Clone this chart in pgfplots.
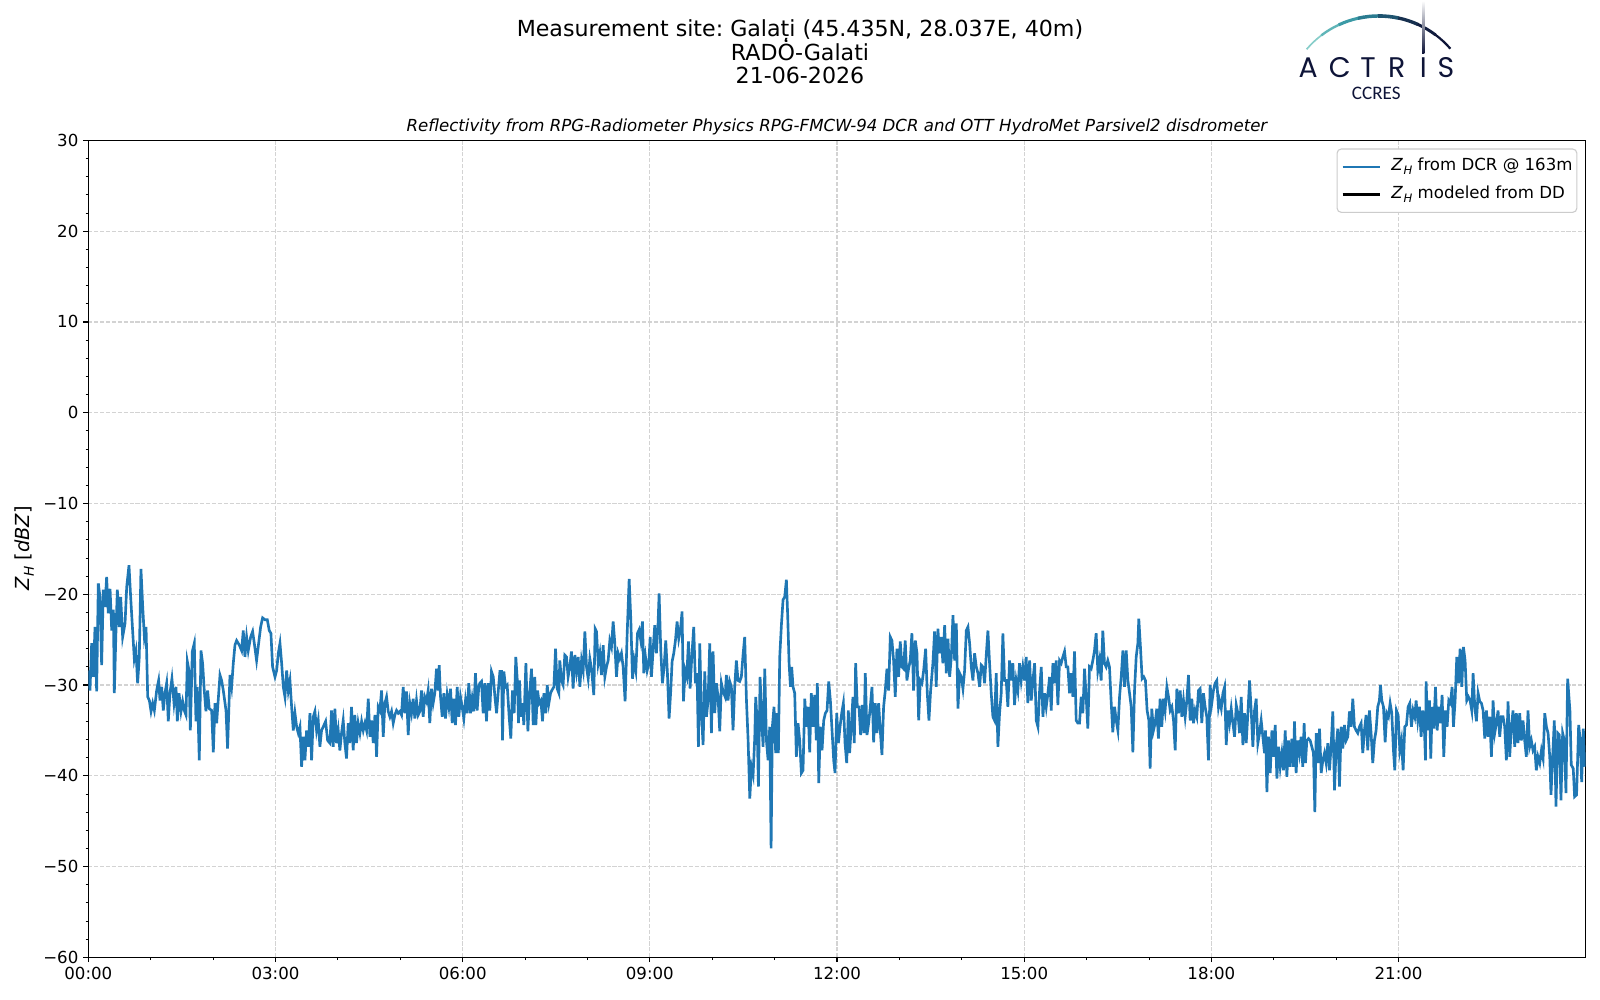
\documentclass[border=0pt]{standalone}
\usepackage{pgfplots}
\pgfplotsset{compat=1.18}
\usepackage{fontspec}
\setmainfont{DejaVu Sans}
\newfontfamily\poppins{Poppins}
\newfontfamily\carlito{Carlito}
\definecolor{mplblue}{HTML}{1F77B4}
\definecolor{gridgray}{HTML}{D3D3D3}
\definecolor{navy}{HTML}{0E1438}
\newcommand{\ZH}[1]{\textit{Z}\kern0.03em\raisebox{-0.22em}{\fontsize{#1}{#1}\selectfont\textit{H}}}
\begin{document}
\frenchspacing
\begin{tikzpicture}
\fill[white] (0,0) rectangle (1152bp,720bp);
\useasboundingbox (0,0) rectangle (1152bp,720bp);
\begin{axis}[
  at={(63.6bp,30.7bp)}, anchor=south west,
  scale only axis, width=1078.1bp, height=588.2bp,
  xmin=0, xmax=1440, ymin=-60, ymax=30,
  xtick={0,180,360,540,720,900,1080,1260},
  xticklabels={00:00,03:00,06:00,09:00,12:00,15:00,18:00,21:00},
  minor x tick num=2,
  ytick={-60,-50,-40,-30,-20,-10,0,10,20,30},
  yticklabels={−60,−50,−40,−30,−20,−10,0,10,20,30},
  minor y tick num=4,
  xtick pos=left, ytick pos=left,
  tick align=outside,
  major tick length=3.5bp, minor tick length=2bp,
  every tick/.style={black, line width=0.8bp},
  minor tick style={line width=0.6bp},
  axis line style={line width=0.8bp},
  ticklabel style={font=\fontsize{12}{14}\selectfont},
  xticklabel style={inner sep=3.5bp},
  yticklabel style={inner sep=3.5bp},
  grid=major,
  major grid style={gridgray, line width=0.8bp, dash pattern=on 2.96bp off 1.28bp},
  legend cell align=left,
  legend style={at={(1,1)}, anchor=north east, xshift=-6bp, yshift=-5.8bp,
    draw=black!20, line width=0.8bp, rounded corners=3bp, fill=white,
    font=\fontsize{12}{14.4}\selectfont,
    nodes={inner sep=0pt, text height=9bp, text depth=3bp},
    inner xsep=3.1bp, inner ysep=6.8bp,
    row sep=8bp},
  legend image code/.code={\draw[#1, line width=1.6bp] (0bp,0bp) -- (26.9bp,0bp); \path (34.3bp,0bp);},
]
\addplot[mplblue, line width=1.9bp] coordinates {
(0.0,-28.4)(1.6,-30.6)(3.2,-25.4)(4.8,-29.1)(6.4,-23.6)(8.0,-30.7)(9.6,-18.8)(11.2,-20.3)(12.8,-27.8)(14.4,-19.5)(16.0,-21.4)(17.6,-18.1)(19.2,-22.1)(20.9,-19.4)(22.5,-24.0)(24.1,-21.7)(25.0,-30.9)(26.6,-24.0)(27.9,-19.5)(29.8,-23.6)(31.1,-20.3)(33.0,-24.7)(35.3,-23.2)(36.9,-19.2)(39.1,-16.8)(40.7,-20.3)(42.6,-24.0)(44.2,-27.1)(45.8,-26.2)(47.4,-29.8)(49.0,-26.9)(50.6,-17.2)(52.3,-21.4)(53.9,-24.7)(55.5,-23.6)(57.1,-31.3)(58.7,-31.7)(60.3,-32.9)(61.9,-32.0)(63.5,-32.8)(65.7,-30.6)(67.6,-29.5)(68.9,-31.7)(70.5,-30.2)(72.1,-32.8)(73.7,-30.9)(75.3,-29.8)(76.9,-34.0)(78.5,-30.9)(80.4,-29.3)(82.4,-32.0)(84.3,-30.2)(85.6,-34.0)(87.2,-30.9)(89.1,-32.9)(90.7,-31.8)(92.3,-32.8)(93.9,-33.3)(95.2,-27.4)(96.8,-28.4)(98.1,-35.0)(100.0,-26.3)(101.9,-25.4)(103.5,-34.0)(104.8,-30.2)(106.7,-38.3)(108.3,-26.2)(109.9,-27.6)(111.5,-30.6)(113.1,-32.9)(114.7,-30.6)(116.3,-32.6)(118.6,-32.8)(120.2,-37.4)(121.8,-32.0)(123.4,-34.2)(124.7,-32.0)(126.6,-28.9)(128.2,-29.5)(129.8,-30.6)(132.4,-32.8)(133.9,-37.0)(136.2,-28.9)(137.8,-30.2)(139.4,-27.6)(141.0,-25.6)(142.6,-25.1)(145.2,-25.6)(147.4,-26.2)(149.0,-24.0)(150.6,-26.9)(152.2,-24.7)(153.8,-26.2)(156.1,-24.7)(158.0,-24.1)(159.6,-25.4)(161.8,-27.3)(164.1,-25.1)(165.7,-23.6)(167.6,-22.6)(169.8,-22.8)(172.1,-22.8)(174.0,-24.0)(175.6,-24.3)(177.2,-28.0)(179.5,-29.1)(181.1,-28.4)(182.7,-26.5)(184.3,-25.4)(185.9,-27.6)(187.5,-30.2)(189.1,-31.3)(190.7,-28.4)(192.3,-30.6)(193.9,-29.5)(195.5,-32.4)(197.1,-35.0)(198.7,-33.1)(200.3,-34.6)(201.9,-35.3)(203.5,-34.6)(205.1,-39.0)(206.7,-35.7)(208.3,-38.3)(209.9,-35.0)(211.5,-36.8)(213.1,-33.1)(214.7,-38.3)(216.3,-33.5)(217.9,-32.9)(219.5,-35.0)(221.1,-33.9)(222.7,-36.8)(224.3,-35.0)(225.9,-34.6)(228.2,-34.0)(230.1,-36.1)(232.3,-36.4)(233.9,-32.8)(235.5,-36.8)(237.1,-32.6)(238.7,-36.4)(240.3,-35.0)(241.9,-37.2)(243.5,-35.3)(245.1,-33.9)(246.7,-36.4)(248.3,-38.1)(249.9,-34.2)(251.5,-36.4)(253.1,-32.4)(254.7,-37.2)(256.3,-33.3)(257.9,-36.4)(259.5,-34.2)(261.2,-35.3)(262.8,-34.0)(264.4,-35.0)(266.0,-34.2)(267.6,-35.0)(269.2,-31.5)(270.8,-35.7)(272.4,-33.9)(274.0,-36.4)(275.6,-33.3)(277.2,-37.9)(278.8,-32.4)(280.4,-32.8)(282.0,-30.6)(283.6,-35.7)(285.2,-32.0)(286.8,-31.3)(288.4,-32.9)(290.0,-33.5)(291.6,-32.9)(293.2,-34.2)(294.8,-33.3)(296.4,-32.8)(298.0,-33.1)(299.6,-32.9)(301.2,-33.3)(302.8,-30.2)(304.4,-33.1)(306.0,-30.7)(307.6,-35.5)(309.2,-32.0)(310.8,-33.1)(312.4,-31.5)(314.0,-33.7)(315.6,-31.7)(317.2,-33.3)(318.8,-32.9)(320.4,-30.6)(322.0,-33.5)(323.6,-31.3)(325.2,-31.8)(326.8,-30.6)(328.4,-34.2)(330.0,-30.4)(331.6,-32.0)(333.2,-30.9)(334.8,-28.2)(336.4,-30.6)(337.4,-27.8)(338.7,-31.3)(340.3,-33.5)(341.9,-30.9)(343.5,-33.7)(345.1,-31.1)(346.7,-32.4)(348.3,-30.4)(349.9,-34.2)(351.5,-31.5)(353.1,-34.4)(354.7,-30.2)(356.3,-33.5)(357.9,-31.3)(359.5,-32.4)(361.1,-33.7)(362.7,-31.7)(364.3,-33.1)(365.9,-29.8)(367.5,-33.1)(369.1,-31.5)(370.7,-32.9)(372.3,-28.7)(373.9,-32.8)(375.5,-30.2)
(376.5,-29.8)(378.1,-29.6)(379.7,-33.1)(381.3,-29.8)(382.9,-34.0)(384.5,-29.8)(386.1,-32.8)(387.7,-28.5)(389.4,-29.1)(391.0,-31.3)(392.6,-33.1)(394.2,-30.7)(395.8,-28.5)(397.4,-28.5)(398.3,-36.1)(399.6,-28.5)(401.2,-30.2)(402.8,-30.0)(404.7,-33.5)(406.3,-35.9)(407.9,-30.6)(409.5,-33.1)(411.1,-26.9)(412.7,-29.8)(413.7,-34.2)(414.7,-29.5)(415.9,-33.5)(417.5,-32.0)(418.8,-34.4)(420.8,-27.6)(422.7,-35.1)(424.6,-30.6)(426.2,-28.2)(427.8,-34.4)(429.4,-29.1)(430.4,-34.4)(432.0,-30.6)(433.6,-32.0)(435.2,-31.7)(436.8,-34.0)(438.1,-30.9)(440.0,-33.1)(441.3,-30.0)(442.9,-32.0)(444.5,-30.9)(445.7,-30.6)(447.7,-30.2)(449.3,-26.0)(450.9,-30.4)(452.5,-30.9)(453.4,-27.3)(455.0,-29.5)(456.6,-30.0)(458.2,-26.7)(459.8,-26.9)(461.4,-29.1)(463.0,-28.0)(464.6,-26.3)(466.2,-30.4)(467.9,-26.7)(469.5,-28.5)(471.1,-26.9)(472.7,-30.2)(474.3,-27.3)(475.9,-28.4)(477.5,-24.1)(479.1,-28.0)(480.7,-29.3)(482.3,-27.1)(483.9,-28.2)(486.1,-31.1)(487.4,-23.8)(488.7,-24.1)(490.3,-27.6)(491.9,-26.5)(493.5,-28.9)(495.1,-25.6)(496.7,-29.1)(498.3,-28.0)(499.9,-27.3)(501.5,-25.1)(503.1,-25.8)(504.7,-23.0)(506.3,-25.4)(507.9,-29.1)(509.5,-26.5)(511.1,-27.1)(512.7,-26.5)(514.3,-28.0)(516.2,-31.8)(518.2,-24.3)(520.1,-18.3)(521.7,-22.8)(523.3,-29.3)(524.9,-27.3)(526.5,-28.4)(528.1,-24.3)(529.7,-23.9)(531.3,-25.1)(532.9,-23.0)(534.2,-28.7)(535.8,-26.9)(537.4,-28.4)(539.0,-27.6)(540.3,-24.7)(541.5,-29.1)(543.1,-26.2)(544.7,-23.4)(546.3,-26.5)(547.9,-23.2)(548.9,-19.9)(550.5,-26.2)(552.1,-29.8)(553.7,-28.0)(555.3,-25.1)(556.9,-28.7)(558.5,-33.7)(560.1,-30.6)(561.4,-27.4)(563.0,-26.5)(564.6,-25.1)(566.2,-23.0)(567.8,-24.9)(569.4,-23.9)(571.0,-21.9)(572.3,-31.8)(573.9,-28.4)(575.5,-29.1)(577.1,-25.2)(578.7,-30.4)(580.3,-26.9)(582.2,-23.6)(583.8,-29.8)(585.4,-28.7)(586.7,-36.8)(588.0,-25.4)(589.6,-33.1)(591.2,-36.6)(592.8,-28.5)(594.4,-33.5)(596.0,-31.7)(597.6,-25.4)(599.2,-35.3)(600.8,-26.3)(602.4,-33.1)(604.0,-29.8)(605.6,-31.3)(607.2,-35.1)(608.8,-29.8)(610.4,-30.7)(612.4,-31.3)(613.6,-28.9)(615.2,-31.7)(616.8,-29.6)(618.4,-30.2)(620.0,-35.0)(621.6,-30.2)(623.2,-27.3)(624.8,-29.5)(626.4,-29.6)(628.0,-29.1)(629.6,-26.7)(631.2,-24.7)(632.9,-31.7)(634.5,-36.1)(636.1,-42.5)(637.7,-39.0)(639.3,-39.9)(640.9,-35.7)(641.8,-31.3)(643.1,-33.9)(644.4,-41.2)(646.0,-29.1)(647.6,-33.9)(648.9,-36.8)(650.5,-28.2)(652.1,-36.1)(653.7,-38.3)(655.3,-34.6)(656.6,-48.0)(657.8,-34.6)(659.4,-32.4)(661.0,-37.5)(662.3,-33.1)(663.6,-37.5)(664.9,-26.9)(666.5,-23.4)(668.1,-20.6)(669.7,-20.3)(671.3,-18.4)(672.6,-22.5)(673.9,-27.6)(675.2,-30.2)(676.4,-28.0)(677.7,-30.2)(679.3,-30.9)(680.9,-37.9)(682.5,-34.2)(684.1,-36.1)(685.7,-39.7)(687.3,-39.4)(689.0,-31.5)(690.5,-34.6)(692.1,-32.4)(693.7,-37.4)(695.3,-30.9)(696.9,-34.6)(698.5,-31.1)(700.1,-36.1)(701.1,-29.8)(702.4,-40.8)(704.0,-34.6)(705.6,-37.2)(707.2,-33.9)(708.8,-33.1)(710.4,-32.8)(712.0,-29.6)(713.6,-31.7)(715.2,-35.0)(716.8,-38.3)(718.1,-39.7)(719.7,-33.1)(721.3,-36.4)(722.9,-34.6)(724.5,-33.1)(726.1,-32.0)(727.7,-36.4)(729.3,-38.6)(730.9,-32.8)
(732.1,-37.5)(733.7,-34.6)(735.3,-31.3)(736.6,-36.4)(737.9,-27.6)(739.5,-32.4)(741.1,-32.4)(742.7,-35.5)(744.3,-32.2)(745.9,-35.3)(747.2,-28.7)(748.8,-35.5)(750.4,-34.2)(752.0,-32.4)(753.6,-30.2)(755.2,-36.3)(756.8,-32.0)(758.4,-35.3)(760.0,-32.0)(761.6,-35.0)(763.2,-37.7)(764.8,-32.4)(766.4,-30.6)(768.0,-28.2)(769.6,-30.6)(771.2,-24.7)(772.8,-25.1)(774.4,-27.3)(776.0,-31.3)(777.6,-26.0)(779.2,-29.1)(780.8,-25.2)(782.4,-28.0)(784.0,-28.2)(785.6,-25.1)(787.2,-29.5)(788.8,-28.2)(790.4,-27.3)(792.0,-24.3)(793.6,-30.6)(795.3,-25.1)(796.9,-26.5)(798.5,-33.9)(800.1,-29.5)(801.7,-29.8)(803.3,-28.4)(805.2,-26.0)(806.8,-30.9)(808.4,-33.9)(810.0,-30.6)(812.2,-27.6)(813.8,-24.1)(815.4,-30.2)(817.0,-23.8)(818.6,-26.5)(820.2,-24.7)(821.8,-27.6)(823.5,-23.4)(825.1,-28.7)(826.7,-24.9)(828.3,-29.1)(829.9,-26.9)(831.5,-22.3)(833.1,-27.3)(834.7,-23.2)(836.3,-32.6)(837.9,-28.7)(839.5,-29.1)(841.1,-30.4)(842.7,-28.4)(844.3,-24.0)(845.9,-23.6)(847.5,-25.4)(849.1,-28.0)(850.7,-29.5)(852.3,-26.5)(853.9,-28.0)(855.5,-28.7)(857.1,-30.2)(858.7,-27.8)(860.3,-28.0)(861.9,-29.8)(863.5,-26.7)(865.1,-24.0)(866.7,-27.6)(868.3,-30.9)(869.9,-33.5)(871.5,-33.9)(873.1,-28.7)(874.7,-36.8)(876.3,-33.1)(877.9,-30.9)(879.5,-24.3)(881.1,-29.5)(882.7,-29.5)(884.3,-32.4)(885.9,-27.3)(887.5,-29.5)(889.1,-27.6)(890.7,-32.2)(892.3,-29.5)(893.9,-30.6)(895.5,-27.6)(897.1,-29.5)(898.7,-28.0)(900.3,-29.5)(901.9,-26.9)(903.5,-32.0)(905.2,-27.3)(906.8,-31.7)(908.4,-29.5)(910.0,-27.6)(911.6,-33.9)(913.2,-34.6)(914.8,-30.6)(916.4,-28.0)(918.0,-33.5)(919.6,-30.9)(921.2,-32.4)(922.8,-30.9)(924.4,-29.1)(926.0,-32.8)(927.6,-27.6)(929.2,-29.8)(930.8,-27.3)(932.4,-32.2)(934.0,-27.3)(935.6,-27.6)(937.2,-26.9)(938.8,-26.3)(940.4,-28.0)(942.0,-28.0)(943.6,-30.9)(945.2,-28.7)(946.8,-31.3)(948.4,-26.3)(950.0,-33.9)(951.6,-34.2)(953.2,-34.2)(954.8,-31.3)(956.4,-33.1)(958.0,-28.2)(959.6,-31.3)(961.2,-34.8)(962.8,-28.0)(964.4,-28.2)(966.0,-27.3)(967.6,-26.2)(969.2,-24.3)(970.8,-28.4)(972.4,-27.3)(974.0,-29.5)(975.6,-24.0)(977.2,-27.6)(978.8,-28.0)(980.4,-27.3)(982.0,-28.0)(983.7,-32.0)(985.2,-35.2)(986.9,-32.4)(988.5,-33.9)(990.1,-35.0)(991.7,-31.3)(993.3,-29.1)(994.9,-26.2)(996.5,-30.2)(998.1,-26.2)(999.7,-29.5)(1001.3,-30.9)(1002.9,-32.4)(1004.5,-37.4)(1006.1,-30.6)(1007.7,-26.9)(1009.3,-25.4)(1010.2,-22.7)(1011.8,-25.8)(1013.4,-29.3)(1015.0,-29.1)(1016.6,-29.5)(1018.2,-32.8)(1019.9,-33.9)(1021.1,-39.2)(1022.7,-32.6)(1024.3,-35.0)(1025.9,-34.2)(1027.5,-32.6)(1029.1,-35.9)(1030.7,-31.5)(1032.3,-34.6)(1033.9,-31.5)(1035.5,-32.8)(1037.2,-30.2)(1038.8,-31.3)(1040.4,-32.8)(1042.0,-32.4)(1043.6,-33.9)(1045.2,-37.2)(1046.8,-30.4)(1048.4,-33.1)(1050.0,-30.6)(1051.6,-33.5)(1053.2,-31.7)(1054.8,-33.5)(1056.4,-31.7)(1058.0,-28.9)(1059.6,-33.9)(1061.2,-31.5)(1062.8,-34.2)(1064.4,-32.8)(1066.0,-33.5)(1067.6,-30.6)(1069.2,-30.4)(1070.8,-34.2)(1072.4,-30.9)(1074.0,-32.4)(1075.6,-33.5)(1077.2,-38.3)(1078.8,-30.0)(1080.4,-32.0)(1082.0,-30.6)(1083.6,-29.8)(1085.2,-29.5)(1086.8,-32.4)
(1087.8,-31.7)(1089.5,-32.6)(1091.1,-30.9)(1092.7,-30.2)(1094.3,-36.6)(1095.9,-32.8)(1097.5,-34.2)(1099.1,-32.6)(1100.7,-34.2)(1102.3,-35.7)(1103.9,-32.2)(1105.5,-33.1)(1107.1,-35.3)(1108.7,-31.3)(1110.3,-36.6)(1111.9,-33.1)(1113.5,-36.4)(1115.1,-33.1)(1116.7,-29.5)(1118.3,-32.8)(1119.9,-36.8)(1121.5,-32.8)(1123.1,-31.5)(1124.7,-36.4)(1126.3,-35.3)(1127.9,-33.9)(1129.5,-35.7)(1131.1,-37.5)(1132.1,-35.0)(1133.4,-41.8)(1135.0,-35.7)(1136.6,-39.7)(1138.2,-35.0)(1139.8,-37.9)(1141.4,-34.4)(1143.0,-40.3)(1144.6,-36.8)(1146.2,-39.0)(1147.8,-37.5)(1149.4,-39.4)(1151.0,-35.0)(1152.6,-40.1)(1154.2,-36.1)(1155.8,-39.0)(1157.4,-35.9)(1159.0,-39.0)(1159.9,-34.0)(1161.5,-39.7)(1163.1,-36.1)(1164.7,-37.5)(1166.3,-35.7)(1167.9,-39.0)(1169.2,-34.2)(1170.5,-38.6)(1171.8,-36.1)(1173.4,-35.9)(1175.0,-36.1)(1176.6,-36.8)(1178.2,-37.5)(1179.5,-44.0)(1180.8,-35.3)(1182.4,-38.6)(1184.0,-34.8)(1185.6,-39.7)(1187.2,-38.3)(1188.8,-37.5)(1190.4,-38.6)(1192.0,-36.4)(1193.6,-39.4)(1195.2,-36.6)(1196.8,-32.9)(1198.4,-41.6)(1200.0,-36.8)(1201.6,-34.8)(1203.2,-41.2)(1204.8,-34.6)(1206.4,-37.0)(1208.0,-34.4)(1209.6,-36.1)(1211.2,-35.7)(1212.8,-32.9)(1214.4,-34.6)(1216.0,-31.5)(1217.6,-34.6)(1219.2,-35.0)(1220.8,-35.3)(1222.4,-34.6)(1224.0,-34.2)(1225.6,-37.5)(1227.2,-35.0)(1228.8,-33.3)(1230.4,-37.2)(1232.0,-32.8)(1233.6,-35.3)(1235.2,-38.6)(1236.8,-36.1)(1238.4,-35.0)(1240.0,-32.4)(1241.6,-31.7)(1242.6,-30.0)(1243.9,-31.7)(1245.5,-32.4)(1247.1,-36.3)(1248.7,-33.1)(1250.3,-33.5)(1251.9,-32.0)(1253.5,-33.1)(1255.1,-37.2)(1256.4,-39.4)(1258.0,-32.8)(1259.6,-33.3)(1261.2,-37.2)(1262.8,-36.1)(1264.4,-39.4)(1266.0,-34.6)(1267.6,-34.4)(1269.2,-32.4)(1270.8,-32.0)(1272.4,-34.6)(1274.0,-32.8)(1275.6,-33.5)(1276.9,-31.7)(1278.5,-33.9)(1280.1,-32.4)(1281.7,-35.7)(1283.3,-32.8)(1284.6,-33.9)(1285.9,-38.3)(1286.5,-29.6)(1288.1,-35.0)(1289.7,-31.7)(1291.0,-38.1)(1292.3,-32.4)(1293.9,-34.8)(1295.5,-30.2)(1297.1,-35.0)(1298.7,-32.4)(1300.3,-34.2)(1301.9,-31.1)(1303.5,-37.9)(1305.1,-32.8)(1306.7,-34.6)(1308.3,-31.7)(1309.9,-32.0)(1311.5,-30.2)(1312.8,-34.6)(1314.4,-31.7)(1316.0,-26.9)(1317.6,-29.8)(1319.2,-26.0)(1320.8,-30.2)(1322.4,-25.8)(1324.0,-27.3)(1325.6,-31.7)(1327.2,-31.3)(1328.8,-31.7)(1330.4,-32.8)(1331.7,-28.7)(1333.3,-32.4)(1334.9,-34.0)(1336.5,-30.9)(1338.1,-31.8)(1339.7,-32.0)(1341.3,-32.8)(1342.9,-35.9)(1344.5,-32.8)(1346.1,-35.7)(1347.7,-33.5)(1349.3,-37.9)(1350.9,-31.7)(1352.5,-35.3)(1354.1,-34.2)(1355.7,-32.8)(1357.3,-35.7)(1358.9,-33.5)(1360.5,-33.5)(1362.1,-34.6)(1363.7,-38.3)(1365.3,-31.8)(1366.9,-37.9)(1368.5,-34.6)(1370.1,-32.8)(1371.7,-36.8)(1373.3,-33.1)(1374.9,-36.4)(1376.5,-33.1)(1378.1,-36.1)(1379.7,-33.9)(1381.3,-36.1)(1382.9,-37.9)(1384.5,-32.8)(1386.1,-36.8)(1387.7,-36.1)(1389.3,-37.2)(1390.9,-36.8)(1392.5,-39.4)(1394.1,-37.9)(1395.8,-38.6)(1397.4,-37.2)(1399.0,-38.1)(1400.6,-33.1)(1402.2,-34.6)(1403.8,-35.3)(1405.4,-37.9)(1406.6,-42.1)(1408.2,-37.9)(1409.8,-33.9)(1411.4,-43.4)(1413.1,-35.3)
(1414.6,-35.5)(1416.2,-42.7)(1417.8,-35.3)(1419.4,-36.1)(1421.0,-41.9)(1422.6,-29.3)(1424.8,-32.8)(1426.1,-38.8)(1428.0,-39.2)(1429.3,-42.3)(1431.2,-42.1)(1433.2,-34.4)(1434.8,-36.1)(1436.1,-40.7)(1437.7,-34.8)(1439.0,-39.0)
};
\addlegendentry{\ZH{8.4} from DCR @ 163m\hspace{2.7bp}}
\addlegendimage{black, line width=1.5bp}
\addlegendentry{\ZH{8.4} modeled from DD\hspace{2.7bp}}
\end{axis}
% y label
\node[rotate=90, font=\fontsize{14}{16}\selectfont] at (17.6bp,325.1bp) {\ZH{9.8} [\textit{dBZ}]};
% titles
\node[anchor=base, font=\fontsize{16}{19.2}\selectfont] at (576bp,693.7bp) {Measurement site: Galați (45.435N, 28.037E, 40m)};
\node[anchor=base, font=\fontsize{16}{19.2}\selectfont] at (576bp,676.7bp) {RADȮ-Galati};
\node[anchor=base, font=\fontsize{16}{19.2}\selectfont] at (576bp,659.8bp) {21-06-2026};
\node[anchor=base, font=\fontsize{12}{14}\selectfont\itshape] at (602.6bp,625bp) {Reflectivity from RPG-Radiometer Physics RPG-FMCW-94 DCR and OTT HydroMet Parsivel2 disdrometer};
% logo
\begin{scope}
\foreach \aa/\ab/\cc/\ww in {139.6/127.3/86CDC9/1.2, 127.3/115.0/5FB5B8/1.7, 115.0/102.7/3C9AA6/2.2, 102.7/90.4/2A7B90/2.5, 90.4/78.1/1F5470/2.6, 78.1/65.8/17304F/2.4, 65.8/53.5/111D3F/2.1, 53.5/41.2/0E1538/1.6}{
  \definecolor{arccol}{HTML}{\cc}
  \draw[arccol, line width=\ww bp] (992.7bp,640.3bp) ++(\aa:68.2bp) arc[start angle=\aa, end angle=\ab-0.3, radius=68.2bp];
}
\shade[top color=white, bottom color=navy] (1024.0bp,681.6bp) rectangle (1025.6bp,719.5bp);
\foreach \xx/\ll in {941.9/A, 964.6/C, 985.0/T, 1005.6/R, 1024.8/I, 1041.0/S}{
  \node[anchor=base, inner sep=0pt, text=navy, font=\poppins\fontsize{20.5}{22}\selectfont] at (\xx bp,664.3bp) {\ll};
}
\node[anchor=base, inner sep=0pt, text=navy, font=\carlito\fontsize{13.8}{15}\selectfont] at (990.9bp,648.2bp) {CCRES};
\end{scope}
\end{tikzpicture}
\end{document}
